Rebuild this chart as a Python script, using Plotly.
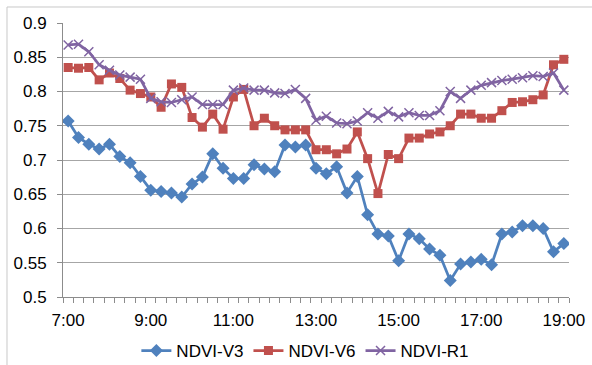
import plotly.graph_objects as go

# time of day in hours, 15-minute steps from 7:00 to 19:00
hours = [7 + 0.25 * i for i in range(49)]

ndvi_v3 = [0.757, 0.733, 0.723, 0.716, 0.723, 0.705, 0.696, 0.676, 0.656, 0.654,
           0.652, 0.646, 0.665, 0.675, 0.709, 0.688, 0.673, 0.673, 0.693, 0.687,
           0.683, 0.722, 0.719, 0.722, 0.688, 0.680, 0.690, 0.652, 0.676, 0.620,
           0.592, 0.589, 0.553, 0.592, 0.585, 0.570, 0.561, 0.524, 0.548, 0.551,
           0.555, 0.547, 0.592, 0.595, 0.604, 0.604, 0.600, 0.566, 0.578]

ndvi_v6 = [0.835, 0.834, 0.835, 0.817, 0.827, 0.819, 0.802, 0.797, 0.792, 0.777,
           0.811, 0.806, 0.762, 0.748, 0.767, 0.745, 0.792, 0.803, 0.750, 0.761,
           0.750, 0.744, 0.744, 0.744, 0.715, 0.715, 0.709, 0.716, 0.741, 0.702,
           0.651, 0.708, 0.702, 0.732, 0.732, 0.738, 0.741, 0.750, 0.767, 0.767,
           0.761, 0.761, 0.772, 0.784, 0.785, 0.788, 0.795, 0.839, 0.847]

ndvi_r1 = [0.868, 0.869, 0.858, 0.839, 0.831, 0.824, 0.821, 0.818, 0.790, 0.785,
           0.784, 0.788, 0.792, 0.781, 0.781, 0.781, 0.802, 0.805, 0.802, 0.802,
           0.798, 0.797, 0.803, 0.790, 0.758, 0.764, 0.754, 0.753, 0.757, 0.769,
           0.761, 0.771, 0.763, 0.769, 0.765, 0.765, 0.772, 0.800, 0.790, 0.802,
           0.809, 0.813, 0.816, 0.818, 0.820, 0.823, 0.822, 0.827, 0.802]

tick_vals = [7, 9, 11, 13, 15, 17, 19]
tick_text = ["7:00", "9:00", "11:00", "13:00", "15:00", "17:00", "19:00"]

FONT = "Liberation Sans, Arial, sans-serif"

fig = go.Figure()
fig.add_trace(go.Scatter(
    x=hours, y=ndvi_v3, name="NDVI-V3", mode="lines+markers",
    line=dict(color="#4F81BD", width=2.75),
    marker=dict(symbol="diamond", size=10, color="#4F81BD")))
fig.add_trace(go.Scatter(
    x=hours, y=ndvi_v6, name="NDVI-V6", mode="lines+markers",
    line=dict(color="#C0504D", width=2.75),
    marker=dict(symbol="square", size=9, color="#C0504D")))
fig.add_trace(go.Scatter(
    x=hours, y=ndvi_r1, name="NDVI-R1", mode="lines+markers",
    line=dict(color="#8064A2", width=2.75),
    marker=dict(symbol="x-thin", size=9, color="#8064A2",
                line=dict(color="#8064A2", width=1.5))))

fig.update_layout(
    width=592, height=365,
    margin=dict(l=63, r=23, t=23, b=68, autoexpand=False),
    paper_bgcolor="white", plot_bgcolor="white",
    font=dict(family=FONT, size=17, color="#000000"),
    showlegend=True,
    legend=dict(orientation="h", x=0.479, xanchor="center", y=-0.197, yanchor="middle",
                font=dict(size=17), itemwidth=30, tracegroupgap=0),
    shapes=[dict(type="rect", xref="paper", yref="paper",
                 x0=-0.1107, y0=-0.4, x1=1.2, y1=1.0584,
                 line=dict(color="#c8c8c8", width=1), layer="below")],
)

fig.update_xaxes(
    range=[6.875, 19.125],
    tickmode="array", tickvals=tick_vals, ticktext=tick_text,
    ticks="", showgrid=False, zeroline=False,
    showline=True, linecolor="#8c8c8c", linewidth=1,
    minor=dict(ticks="outside", tickmode="linear", tick0=6.875, dtick=0.25,
               ticklen=5, tickcolor="#8c8c8c", showgrid=False),
    tickfont=dict(size=17), ticklabelstandoff=8,
)
fig.update_yaxes(
    range=[0.5, 0.9], tickmode="array",
    tickvals=[0.5, 0.55, 0.6, 0.65, 0.7, 0.75, 0.8, 0.85, 0.9],
    ticktext=["0.5", "0.55", "0.6", "0.65", "0.7", "0.75", "0.8", "0.85", "0.9"],
    ticks="outside", ticklen=5, tickcolor="#8c8c8c",
    showgrid=True, gridcolor="#a6a6a6", gridwidth=1, zeroline=False,
    showline=True, linecolor="#8c8c8c", linewidth=1,
    tickfont=dict(size=17), ticklabelstandoff=7,
)

fig.write_html("out.html")
